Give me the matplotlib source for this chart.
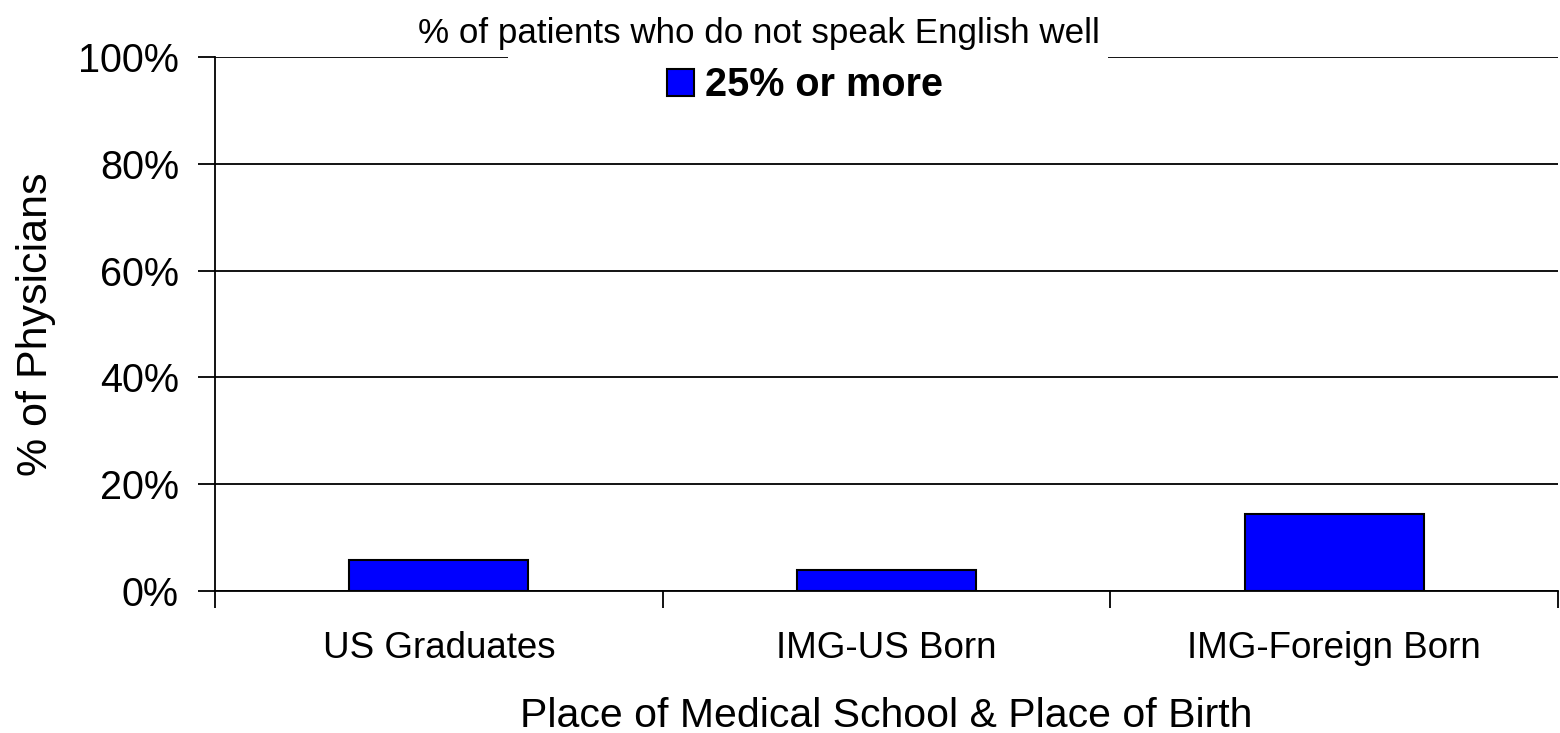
import matplotlib
matplotlib.use("Agg")
import matplotlib.pyplot as plt
from matplotlib.patches import Rectangle
from matplotlib.ticker import FixedLocator

plt.rcParams['font.family'] = ['Liberation Sans', 'DejaVu Sans']

# data
categories = ["US Graduates", "IMG-US Born", "IMG-Foreign Born"]
share_25_or_more = [5.8, 3.9, 14.4]
y_ticks = [0, 20, 40, 60, 80, 100]
y_tick_labels = ["0%", "20%", "40%", "60%", "80%", "100%"]
series_label = "25% or more"
legend_title = "% of patients who do not speak English well"

W, H = 1560, 733
fig = plt.figure(figsize=(W / 100, H / 100), dpi=100)
ax = fig.add_axes([215 / W, 1 - 591 / H, (1558 - 215) / W, (591 - 57) / H])

x = list(range(len(categories)))
bars = ax.bar(x, share_25_or_more, width=0.4, color="#0000FF",
              edgecolor="black", linewidth=1.5, label=series_label, zorder=3)

ax.set_xlim(-0.5, len(categories) - 0.5)
ax.set_ylim(0, 100)
ax.set_yticks(y_ticks)
ax.set_yticklabels(y_tick_labels, fontsize=28.5)
ax.yaxis.grid(True, color="black", linewidth=1.3, zorder=0)
ax.set_axisbelow(True)

ax.set_xticks(x)
ax.set_xticklabels(categories, fontsize=26.5)
ax.xaxis.set_minor_locator(FixedLocator([i - 0.5 for i in range(len(categories) + 1)]))
ax.tick_params(axis="x", which="major", length=0, pad=29)
ax.tick_params(axis="x", which="minor", length=12, width=1.3, direction="out")
ax.tick_params(axis="y", length=12, width=1.3, direction="out", pad=14)

for side in ["top", "right"]:
    ax.spines[side].set_visible(False)
for side in ["left", "bottom"]:
    ax.spines[side].set_linewidth(1.3)

ax.set_xlabel("Place of Medical School & Place of Birth", fontsize=29.5, labelpad=22)
ax.set_ylabel("% of Physicians", fontsize=31, labelpad=16)

# white box that breaks the top gridline behind the legend
ax.add_patch(Rectangle((508 / W, 1 - 62 / H), 600 / W, 10 / H,
                       transform=fig.transFigure, facecolor="white",
                       edgecolor="none", clip_on=False, zorder=5))

fig.text(418 / W, 1 - 43 / H, legend_title, fontsize=25.2, ha="left", va="baseline")

leg = ax.legend(handles=[bars], loc="upper left",
                bbox_to_anchor=(667 / W, 1 - 66 / H), bbox_transform=fig.transFigure,
                frameon=False, borderpad=0, borderaxespad=0,
                handlelength=0.68, handleheight=0.68, handletextpad=0.28,
                prop={"size": 28.5, "weight": "bold"})
leg.set_zorder(6)

fig.savefig("out.png", dpi=100)
